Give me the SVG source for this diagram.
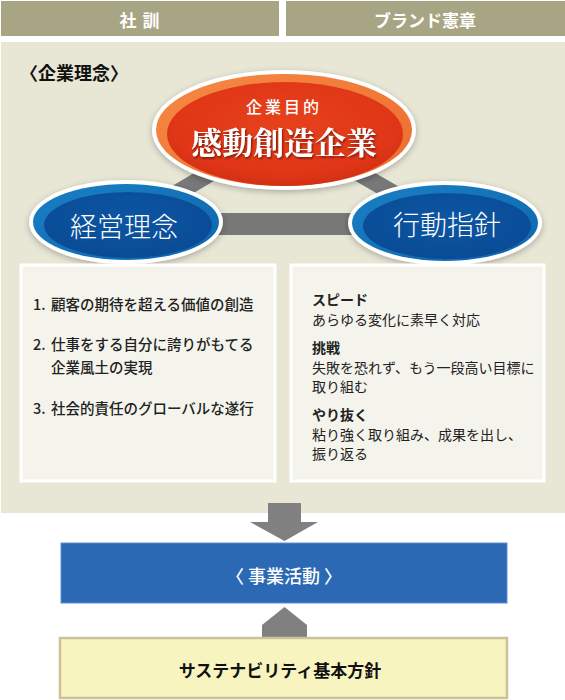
<svg xmlns="http://www.w3.org/2000/svg" width="565" height="700" viewBox="0 0 565 700">
<defs>
<style>
text{font-family:"Noto Sans CJK JP","Noto Sans",sans-serif;dominant-baseline:central}
.tab{fill:#a7a583}
.tabt{fill:#fff;font-size:17px;font-weight:700;text-anchor:middle}
.box{fill:#f4f4ec;stroke:#fff;stroke-width:3}
.li{fill:#222;font-size:14.5px;font-weight:500}
.rh{fill:#222;font-size:14px;font-weight:700}
.rb{fill:#222;font-size:14px;font-weight:400}
.bar{stroke:#787878;fill:none}
.arrow{fill:#808080}
.bt{fill:#fff;text-anchor:middle;font-size:27px;font-weight:300}
</style>
<filter id="sh" x="-20%" y="-30%" width="140%" height="160%">
<feDropShadow dx="0" dy="2" stdDeviation="3" flood-color="#000" flood-opacity="0.28"/>
</filter>
<filter id="tsh" x="-10%" y="-30%" width="120%" height="160%">
<feDropShadow dx="1" dy="1.5" stdDeviation="1.2" flood-color="#5a0f00" flood-opacity="0.8"/>
</filter>
<linearGradient id="org" x1="0" y1="0" x2="1" y2="1">
<stop offset="0" stop-color="#f58a45"/>
<stop offset="1" stop-color="#ee6a2c"/>
</linearGradient>
<radialGradient id="red" cx="0.5" cy="0.4" r="0.6">
<stop offset="0" stop-color="#e6421c"/>
<stop offset="0.8" stop-color="#e03617"/>
<stop offset="1" stop-color="#d23014"/>
</radialGradient>
<linearGradient id="blo" x1="0" y1="0" x2="1" y2="1">
<stop offset="0" stop-color="#1a7fc4"/>
<stop offset="1" stop-color="#0d66ae"/>
</linearGradient>
<radialGradient id="bli" cx="0.5" cy="0.4" r="0.6">
<stop offset="0" stop-color="#0c56a3"/>
<stop offset="1" stop-color="#0a4b95"/>
</radialGradient>
</defs>

<rect x="0" y="0" width="565" height="700" fill="#fff"/>

<g id="tab-shakun">
<rect class="tab" x="1" y="1" width="278" height="35"/>
<text class="tabt" x="140" y="19" letter-spacing="1">社 訓</text>
</g>
<g id="tab-brand">
<rect class="tab" x="286" y="1" width="279" height="35"/>
<text class="tabt" x="425" y="19">ブランド憲章</text>
</g>

<g id="panel">
<rect x="1" y="42" width="564" height="471" fill="#e8e7d6"/>
<text x="20" y="72" font-size="18" font-weight="700" fill="#111">〈企業理念〉</text>
</g>

<g id="connectors">
<line class="bar" x1="126" y1="224" x2="445" y2="224" stroke-width="22"/>
<line class="bar" x1="126" y1="223" x2="284" y2="130" stroke-width="17"/>
<line class="bar" x1="445" y1="223" x2="284" y2="130" stroke-width="17"/>
<polygon class="arrow" points="268,503 301,503 301,522 318,522 284.5,541 250,522 268,522"/>
<polygon class="arrow" points="262,637 262,625 284.5,607 307,625 307,637"/>
</g>

<g id="purpose">
<ellipse cx="284" cy="130" rx="132" ry="60" fill="#fff" filter="url(#sh)"/>
<ellipse cx="284" cy="130" rx="128" ry="56" fill="url(#org)"/>
<ellipse cx="285" cy="134" rx="118" ry="52" fill="url(#red)"/>
<text x="284" y="106" fill="#fff" font-size="16" font-weight="500" text-anchor="middle" letter-spacing="3">企業目的</text>
<text x="284" y="140" fill="#fff" font-size="31" font-weight="700" text-anchor="middle" filter="url(#tsh)" style="font-family:'Noto Serif CJK JP','Noto Sans CJK JP',serif">感動創造企業</text>
</g>

<g id="keiei">
<ellipse cx="126" cy="222" rx="97" ry="42" fill="#fff" filter="url(#sh)"/>
<ellipse cx="126" cy="222" rx="93" ry="38" fill="url(#blo)"/>
<ellipse cx="128" cy="225" rx="84" ry="33" fill="url(#bli)"/>
<text class="bt" x="124" y="225">経営理念</text>
</g>

<g id="koudou">
<ellipse cx="445" cy="223" rx="97" ry="42" fill="#fff" filter="url(#sh)"/>
<ellipse cx="445" cy="223" rx="93" ry="38" fill="url(#blo)"/>
<ellipse cx="447" cy="226" rx="84" ry="33" fill="url(#bli)"/>
<text class="bt" x="447" y="223">行動指針</text>
</g>

<g id="box-left">
<rect class="box" x="21" y="265" width="254" height="216"/>
<text class="li" x="33" y="303">1.</text>
<text class="li" x="51" y="303">顧客の期待を超える価値の創造</text>
<text class="li" x="33" y="343">2.</text>
<text class="li" x="51" y="343">仕事をする自分に誇りがもてる</text>
<text class="li" x="51" y="366">企業風土の実現</text>
<text class="li" x="33" y="407">3.</text>
<text class="li" x="51" y="407">社会的責任のグローバルな遂行</text>
</g>

<g id="box-right">
<rect class="box" x="291" y="265" width="253" height="216"/>
<text class="rh" x="312" y="299">スピード</text>
<text class="rb" x="312" y="319">あらゆる変化に素早く対応</text>
<text class="rh" x="312" y="347">挑戦</text>
<text class="rb" x="312" y="367">失敗を恐れず、もう一段高い目標に</text>
<text class="rb" x="312" y="386">取り組む</text>
<text class="rh" x="312" y="414">やり抜く</text>
<text class="rb" x="312" y="434">粘り強く取り組み、成果を出し、</text>
<text class="rb" x="312" y="453">振り返る</text>
</g>

<g id="business">
<rect x="61" y="543" width="446" height="60" fill="#2b69b5" stroke="#5a8fd0" stroke-width="1"/>
<text x="284" y="575" fill="#fff" font-size="18" font-weight="500" text-anchor="middle">〈 事業活動 〉</text>
</g>

<g id="sustainability">
<rect x="60" y="638" width="447" height="60" fill="#f8f4bf" stroke="#cdc199" stroke-width="2.5"/>
<text x="280" y="669" fill="#111" font-size="17" font-weight="700" text-anchor="middle">サステナビリティ基本方針</text>
</g>
</svg>
